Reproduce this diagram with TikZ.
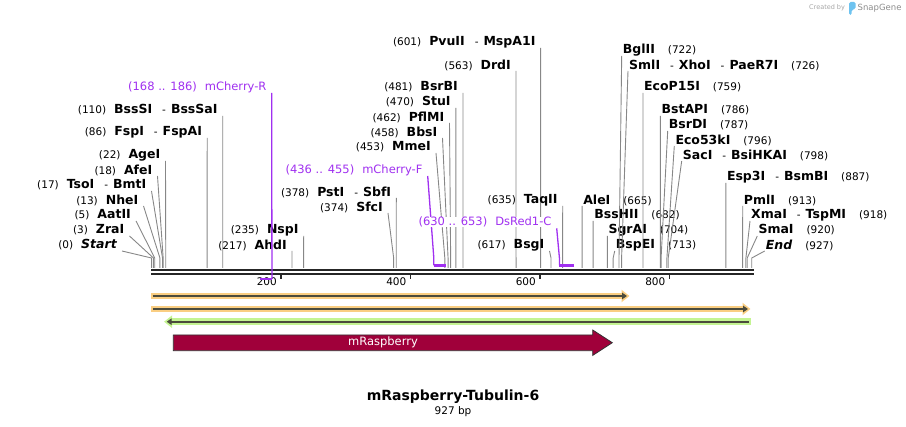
\documentclass[tikz,border=0pt]{standalone}
\usepackage{fontspec}
\setmainfont{DejaVu Sans}
\usetikzlibrary{arrows.meta, positioning}
\definecolor{primerpurple}{RGB}{160,48,240}
\definecolor{featred}{RGB}{160,0,58}
\definecolor{bandorange}{RGB}{250,206,130}
\definecolor{bandgreen}{RGB}{196,244,146}
\definecolor{leadgray}{RGB}{135,135,135}
\definecolor{darkline}{RGB}{75,75,60}
\definecolor{logoblue}{RGB}{110,195,240}
\newcommand{\enz}[1]{{\fontsize{12.5}{12}\selectfont\bfseries #1}}
\newcommand{\lgap}{\hspace{8pt}}
\newcommand{\rgap}{\hspace{13pt}}
\newcommand{\esep}{\hspace{10pt}-\hspace{5pt}}
\newcommand{\bpx}[1]{151.5+0.6475*#1}

\begin{document}
\begin{tikzpicture}[x=1pt, y=-1pt,
 cutL/.style={anchor=east, inner sep=0pt, font=\fontsize{10.5}{12}\selectfont},
 cutR/.style={anchor=west, inner sep=0pt, font=\fontsize{10.5}{12}\selectfont},
 primerlbl/.style={anchor=east, inner sep=0pt, fill=white, text=primerpurple, font=\fontsize{11.5}{12}\selectfont},
 lead/.style={draw=leadgray, line width=0.9pt},
 primerline/.style={draw=primerpurple, line width=1.3pt},
 primerbar/.style={draw=primerpurple, line width=2.4pt}]
 \useasboundingbox (0,0) rectangle (906,427);

 % logo
 \node[anchor=west, inner sep=0pt, text=black!35, font=\fontsize{6.5}{8}\selectfont] (created) at (809,7.5) {Created by};
 \fill[logoblue, rounded corners=1.5pt] (849,2) -- (855.5,2) -- (855.5,9) -- (851.5,10) -- (851.5,15) -- (849,15) -- cycle;
 \node[anchor=west, inner sep=0pt, text=black!45, font=\fontsize{8.5}{10}\selectfont] (snapgene) at (857.5,8) {SnapGene};

 % sequence line and ruler
 \draw[line width=2.4pt, black!85] (151,270) -- (754,270);
 \draw[line width=2pt, black!85] (151,274) -- (754,274);
 \foreach \t in {200,400,600,800}{
  \draw[line width=1.6pt, black!85] ({\bpx{\t}},274) -- ++(0,5.5);
  \node[anchor=east, inner sep=0pt, font=\fontsize{10.5}{12}\selectfont] (tick\t) at ({\bpx{\t}-4},282) {\t};
 }

 % cut sites, labels left of their line
 \foreach \b/\x/\y/\txt in {
  0/117/245/{(0)\lgap\enz{\itshape Start}},
  3/124.5/230/{(3)\lgap\enz{ZraI}},
  5/131/215/{(5)\lgap\enz{AatII}},
  13/138.5/200/{(13)\lgap\enz{NheI}},
  17/146.5/185/{(17)\lgap\enz{TsoI}\esep\enz{BmtI}},
  18/152.5/170/{(18)\lgap\enz{AfeI}},
  22/160.5/155/{(22)\lgap\enz{AgeI}},
  86/202.2/132/{(86)\lgap\enz{FspI}\esep\enz{FspAI}},
  110/217.7/110/{(110)\lgap\enz{BssSI}\esep\enz{BssSaI}},
  217/287/245/{(217)\lgap\enz{AhdI}},
  235/298.7/230/{(235)\lgap\enz{NspI}},
  374/383/207/{(374)\lgap\enz{SfcI}},
  378/391.3/192/{(378)\lgap\enz{PstI}\esep\enz{SbfI}},
  453/431/147/{(453)\lgap\enz{MmeI}},
  458/437.5/132/{(458)\lgap\enz{BbsI}},
  462/444.5/117/{(462)\lgap\enz{PflMI}},
  470/450.8/102/{(470)\lgap\enz{StuI}},
  481/458/87/{(481)\lgap\enz{BsrBI}},
  563/511/65/{(563)\lgap\enz{DrdI}},
  601/535.6/42/{(601)\lgap\enz{PvuII}\esep\enz{MspA1I}},
  617/544.5/245/{(617)\lgap\enz{BsgI}},
  635/557.7/200/{(635)\lgap\enz{TaqII}}}{
  \node[cutL] (cut\b) at (\x,\y) {\txt};
  \draw[lead] ([shift={(5,6)}]cut\b.east) -- ({\bpx{\b}},258) -- ++(0,10);
 }

 % cut sites, labels right of their line
 \foreach \b/\x/\y/\txt in {
  665/583.1/200/{\enz{AleI}\rgap(665)},
  682/594.1/215/{\enz{BssHII}\rgap(682)},
  704/608.3/230/{\enz{SgrAI}\rgap(704)},
  713/615.7/245/{\enz{BspEI}\rgap(713)},
  722/622.7/50/{\enz{BglII}\rgap(722)},
  726/629/65/{\enz{SmlI}\esep\enz{XhoI}\esep\enz{PaeR7I}\rgap(726)},
  759/644/87/{\enz{EcoP15I}\rgap(759)},
  786/661.4/110/{\enz{BstAPI}\rgap(786)},
  787/668.7/125/{\enz{BsrDI}\rgap(787)},
  796/675.3/140/{\enz{Eco53kI}\rgap(796)},
  798/682.7/155/{\enz{SacI}\esep\enz{BsiHKAI}\rgap(798)},
  887/726.8/177/{\enz{Esp3I}\esep\enz{BsmBI}\rgap(887)},
  913/743.7/200/{\enz{PmlI}\rgap(913)},
  918/751/215/{\enz{XmaI}\esep\enz{TspMI}\rgap(918)},
  920/758.3/230/{\enz{SmaI}\rgap(920)},
  927/765.7/245/{\enz{\itshape End}\rgap(927)}}{
  \node[cutR] (cut\b) at (\x,\y) {\txt};
  \draw[lead] ([shift={(-1,6)}]cut\b.west) -- ({\bpx{\b}},258) -- ++(0,10);
 }

 % primers
 \node[primerlbl] (mchR) at (266.7,87) {(168 .. 186)\lgap mCherry-R};
 \coordinate (mchR168) at ({\bpx{168}},279);
 \coordinate (mchR186) at ({\bpx{186}},279);
 \draw[primerline] ([shift={(5,6)}]mchR.east) -- (mchR186);
 \draw[primerbar] (mchR186) -- (mchR168);

 \node[primerlbl] (mchF) at (422.7,170) {(436 .. 455)\lgap mCherry-F};
 \coordinate (mchF436) at ({\bpx{436}},265.5);
 \coordinate (mchF455) at ({\bpx{455}},265.5);
 \draw[primerline] ([shift={(5,6)}]mchF.east) -- ([yshift=7.5pt]mchF436) -- (mchF436);
 \draw[primerbar] (mchF436) -- (mchF455);

 \node[primerlbl] (dsred) at (551.7,222.3) {(630 .. 653)\lgap DsRed1-C};
 \coordinate (dsred630) at ({\bpx{630}},265.5);
 \coordinate (dsred653) at ({\bpx{653}},265.5);
 \draw[primerline] ([shift={(5,6)}]dsred.east) -- ([yshift=7.5pt]dsred630) -- (dsred630);
 \draw[primerbar] (dsred630) -- (dsred653);

 % features
 \draw[line width=6.7pt, bandorange, -{Triangle[length=8pt,width=12pt]}] (151,296) -- (629.5,296);
 \draw[line width=2pt, darkline, -{Triangle[length=5pt,width=6.5pt]}] (152.5,296) -- (627,296);
 \draw[line width=6.7pt, bandorange, -{Triangle[length=8pt,width=12pt]}] (151,309) -- (750.5,309);
 \draw[line width=2pt, darkline, -{Triangle[length=5pt,width=6.5pt]}] (152.5,309) -- (748,309);
 \draw[line width=6.7pt, bandgreen, {Triangle[length=8pt,width=12pt]}-] (164,321.7) -- (750.7,321.7);
 \draw[line width=2pt, darkline, {Triangle[length=5pt,width=6.5pt]}-] (166.7,321.7) -- (749,321.7);

 \draw[draw=black!80, line width=0.8pt, fill=featred] (173.3,335) -- (592.7,335) -- (592.7,330) -- (612.3,342.7) -- (592.7,355.4) -- (592.7,350.7) -- (173.3,350.7) -- cycle;
 \node[text=white, inner sep=0pt, font=\fontsize{11.5}{12}\selectfont] (mrasp) at (383,342.7) {mRaspberry};

 % title
 \node[font=\fontsize{14}{16}\selectfont\bfseries, inner sep=0pt] (title) at (453,396.5) {mRaspberry-Tubulin-6};
 \node[font=\fontsize{10.5}{12}\selectfont, inner sep=0pt] (seqlen) at (453,411.5) {927 bp};
\end{tikzpicture}
\end{document}
